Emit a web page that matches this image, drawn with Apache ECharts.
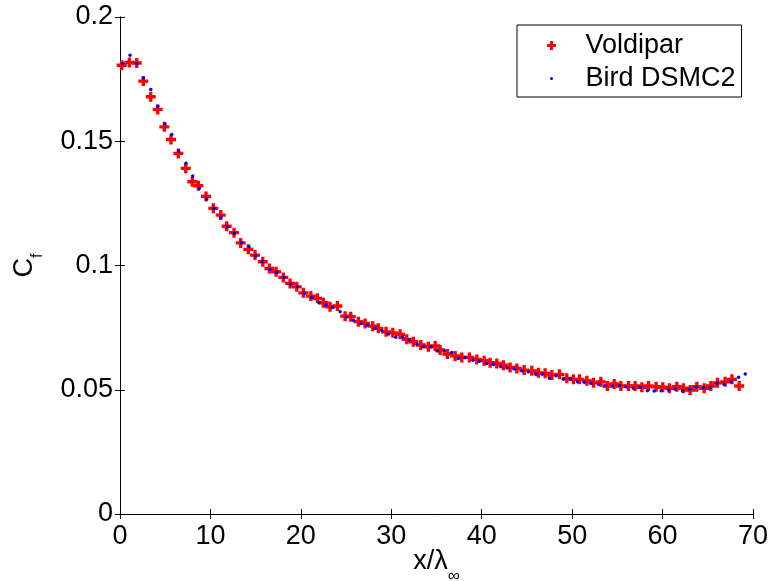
<!DOCTYPE html>
<html>
<head>
<meta charset="utf-8">
<script src="https://cdn.jsdelivr.net/npm/echarts@6/dist/echarts.min.js"></script>
<style>
html,body{margin:0;padding:0;background:#fff;}
#chart{width:771px;height:581px;}
</style>
</head>
<body>
<div id="chart"></div>
<script>
// Voldipar (red crosses)
var voldiparX = [0.19,1.03,1.85,2.58,3.40,4.17,4.90,5.64,6.45,7.27,8.00,8.66,9.51,10.32,11.14,11.80,12.61,13.35,14.19,14.93,15.79,16.52,17.26,18.06,18.81,19.55,20.28,21.10,21.83,22.49,23.23,24.04,24.89,25.52,26.36,27.10,27.95,28.57,29.42,30.17,30.97,31.71,32.44,33.26,34.10,34.85,35.40,36.21,37.06,37.80,38.64,39.46,40.27,40.93,41.67,42.40,43.14,43.88,44.69,45.54,46.27,47.01,47.75,48.60,49.41,50.14,50.81,51.63,52.36,53.17,53.90,54.65,55.39,56.23,56.97,57.71,58.44,59.29,60.03,60.76,61.58,62.31,63.05,63.79,64.60,65.34,66.07,66.92,67.67,68.47];
var voldiparY = [0.1806,0.1817,0.1815,0.1742,0.1679,0.1628,0.1558,0.1507,0.1451,0.1391,0.1337,0.1321,0.1278,0.1230,0.1203,0.1158,0.1132,0.1091,0.1065,0.1042,0.1015,0.0988,0.0975,0.0952,0.0928,0.0914,0.0890,0.0877,0.0868,0.0850,0.0834,0.0837,0.0796,0.0794,0.0774,0.0767,0.0756,0.0747,0.0733,0.0729,0.0723,0.0703,0.0693,0.0680,0.0673,0.0676,0.0660,0.0644,0.0636,0.0630,0.0630,0.0622,0.0617,0.0609,0.0606,0.0599,0.0590,0.0586,0.0579,0.0576,0.0568,0.0566,0.0559,0.0562,0.0546,0.0542,0.0542,0.0536,0.0528,0.0532,0.0515,0.0523,0.0515,0.0515,0.0515,0.0510,0.0515,0.0512,0.0510,0.0506,0.0512,0.0506,0.0499,0.0512,0.0506,0.0515,0.0528,0.0532,0.0542,0.0515];
// Bird DSMC2 (blue dots)
var birdX = [0.30,1.11,1.85,2.58,3.40,4.17,4.98,5.72,6.49,7.30,8.04,8.77,9.59,10.40,11.14,11.87,12.64,13.46,14.27,15.01,15.74,16.59,17.33,18.14,18.88,19.66,20.39,21.21,22.01,22.79,23.53,24.34,25.08,25.81,26.63,27.36,28.21,28.95,29.68,30.50,31.27,32.00,32.82,33.55,34.37,35.10,35.87,36.69,37.42,38.16,39.02,39.75,40.56,41.29,42.11,42.84,43.62,44.44,45.17,45.98,46.71,47.49,48.23,49.04,49.78,50.59,51.33,52.10,52.91,53.65,54.46,55.23,55.97,56.78,57.52,58.33,59.07,59.85,60.65,61.39,62.20,62.98,63.72,64.52,65.27,66.01,66.81,67.59,68.40,69.14];
var birdY = [0.1813,0.1846,0.1813,0.1755,0.1708,0.1641,0.1569,0.1527,0.1461,0.1411,0.1360,0.1311,0.1268,0.1230,0.1194,0.1156,0.1129,0.1093,0.1075,0.1038,0.1015,0.0984,0.0972,0.0952,0.0925,0.0914,0.0888,0.0872,0.0850,0.0841,0.0831,0.0814,0.0794,0.0780,0.0767,0.0760,0.0747,0.0738,0.0724,0.0711,0.0711,0.0700,0.0684,0.0673,0.0673,0.0656,0.0657,0.0650,0.0626,0.0629,0.0619,0.0615,0.0606,0.0602,0.0593,0.0588,0.0583,0.0576,0.0572,0.0562,0.0562,0.0546,0.0556,0.0542,0.0544,0.0532,0.0530,0.0526,0.0522,0.0516,0.0515,0.0516,0.0512,0.0506,0.0510,0.0496,0.0495,0.0496,0.0499,0.0502,0.0495,0.0502,0.0510,0.0508,0.0508,0.0526,0.0522,0.0532,0.0550,0.0563];
var seriesNames = ['Voldipar','Bird DSMC2'];
var xTicks = {min:0, max:70, step:10};
var yTicks = {min:0, max:0.2, step:0.05};

function pairs(xs, ys){ return xs.map(function(x,i){ return [x, ys[i]]; }); }

var FONT = "'Liberation Sans', Arial, Helvetica, sans-serif";
var FS = 27;
var CROSS = 'path://M3,0H6V3H9V6H6V9H3V6H0V3H3Z';
var axisLine = {show:true, lineStyle:{color:'#000', width:1}};
var tick = {show:true, inside:true, length:5, lineStyle:{color:'#000', width:1}};

var chart = echarts.init(document.getElementById('chart'), null, {renderer:'canvas'});
chart.setOption({
  animation:false,
  backgroundColor:'#fff',
  textStyle:{fontFamily:FONT},
  grid:{left:120, right:18, top:17, bottom:67, containLabel:false, outerBoundsMode:'none'},
  legend:{
    left:517, top:25, orient:'vertical',
    padding:[7,6,5,27], itemWidth:58, itemHeight:9, itemGap:6,
    borderColor:'#000', borderWidth:1, backgroundColor:'#fff',
    selectedMode:false,
    textStyle:{fontSize:FS, fontFamily:FONT, color:'#000', lineHeight:24},
    data:[
      {name:seriesNames[0], icon:CROSS, itemStyle:{color:'#ff0000'}},
      {name:seriesNames[1], icon:'circle', itemStyle:{color:'#0000ff', borderColor:'#fff', borderWidth:6}}
    ]
  },
  xAxis:[{
    type:'value', position:'bottom', min:xTicks.min, max:xTicks.max, interval:xTicks.step,
    axisLine:axisLine, axisTick:tick, splitLine:{show:false},
    axisLabel:{fontSize:FS, fontFamily:FONT, color:'#000', margin:9},
    name:'{a|x/λ}{s|∞}', nameLocation:'middle', nameGap:24, nameMoveOverlap:false,
    nameTextStyle:{color:'#000', fontFamily:FONT, rich:{
      a:{fontSize:FS, fontFamily:FONT, color:'#000'},
      s:{fontSize:17, fontFamily:FONT, color:'#000', padding:[30,0,0,0]}
    }}
  },{
    type:'value', position:'top', min:xTicks.min, max:xTicks.max, interval:xTicks.step,
    axisLine:axisLine, axisTick:tick, splitLine:{show:false}, axisLabel:{show:false}
  }],
  yAxis:[{
    type:'value', position:'left', min:yTicks.min, max:yTicks.max, interval:yTicks.step,
    axisLine:axisLine, axisTick:tick, splitLine:{show:false},
    axisLabel:{fontSize:FS, fontFamily:FONT, color:'#000', margin:7},
    name:'{c|C}{s|f}', nameLocation:'middle', nameGap:74, nameRotate:90, nameMoveOverlap:false,
    nameTextStyle:{color:'#000', fontFamily:FONT, rich:{
      c:{fontSize:FS, fontFamily:FONT, color:'#000'},
      s:{fontSize:16, fontFamily:FONT, color:'#000', padding:[26,0,0,0]}
    }}
  },{
    type:'value', position:'right', min:yTicks.min, max:yTicks.max, interval:yTicks.step,
    axisLine:axisLine, axisTick:tick, splitLine:{show:false}, axisLabel:{show:false}
  }],
  series:[{
    name:seriesNames[0], type:'scatter', xAxisIndex:0, yAxisIndex:0,
    symbol:CROSS, symbolSize:10, itemStyle:{color:'#ff0000', opacity:1},
    emphasis:{disabled:true},
    data:pairs(voldiparX, voldiparY)
  },{
    name:seriesNames[1], type:'scatter', xAxisIndex:0, yAxisIndex:0,
    symbol:'circle', symbolSize:3.5, itemStyle:{color:'#0000ff', opacity:1},
    emphasis:{disabled:true},
    data:pairs(birdX, birdY)
  }]
});
</script>
</body>
</html>
